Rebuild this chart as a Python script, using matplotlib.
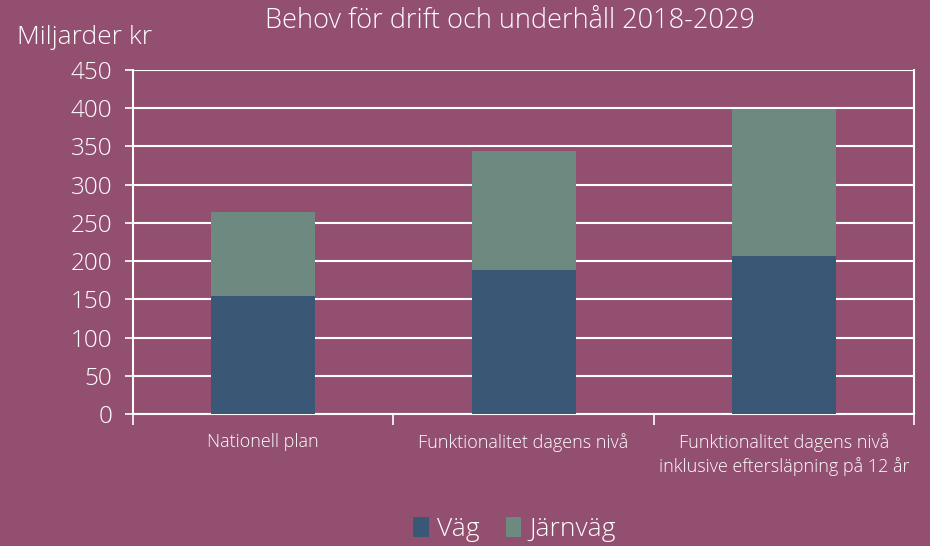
import matplotlib.pyplot as plt
import numpy as np

# data
kategorier = ['Nationell plan', 'Funktionalitet dagens nivå',
              'Funktionalitet dagens nivå\ninklusive eftersläpning på 12 år']
vag = [154, 188, 207]
jarnvag = [110, 156, 192]

bg = '#934F70'
c_vag = '#3A5875'
c_jarn = '#6E8A80'

plt.rcParams['font.family'] = ['Open Sans', 'DejaVu Sans']
plt.rcParams['font.weight'] = 'light'

fig = plt.figure(figsize=(9.3, 5.46), dpi=100, facecolor=bg)
ax = fig.add_axes([0.143, 0.2418, 0.840, 0.630], facecolor=bg)

x = np.arange(len(kategorier))
ax.bar(x, vag, width=0.4, color=c_vag, label='Väg', zorder=3)
ax.bar(x, jarnvag, width=0.4, bottom=vag, color=c_jarn, label='Järnväg', zorder=3)

ax.set_xlim(-0.5, 2.5)
ax.set_ylim(0, 450)
ax.set_yticks(range(0, 451, 50))
ax.yaxis.grid(True, color='white', linewidth=1.5, zorder=0)
ax.set_xticks([-0.5, 0.5, 1.5, 2.5])
ax.set_xticklabels([])
ax.set_xticks(x, minor=True)
ax.set_xticklabels(kategorier, minor=True, fontsize=13, color='white', linespacing=1.35)
ax.tick_params(axis='x', which='minor', length=0, pad=14)
ax.tick_params(axis='x', which='major', length=8, color='white', width=1.2)
ax.tick_params(axis='y', length=6, color='white', width=1.2, labelsize=17.5,
               labelcolor='white', pad=9)

for s in ['left', 'right', 'bottom']:
    ax.spines[s].set_color('white')
    ax.spines[s].set_linewidth(1.5)
ax.spines['top'].set_visible(False)

fig.text(0.548, 0.962, 'Behov för drift och underhåll 2018-2029', ha='center', va='center',
         fontsize=19.5, color='white')
fig.text(0.018, 0.932, 'Miljarder kr', ha='left', va='center', fontsize=19, color='white')

leg = fig.legend(loc='center', bbox_to_anchor=(0.553, 0.03), ncol=2, frameon=False,
                 fontsize=19, labelcolor='white', handlelength=0.6, handleheight=0.8,
                 handletextpad=0.3, columnspacing=1.0)

fig.savefig('out.png', dpi=100, facecolor=bg)
